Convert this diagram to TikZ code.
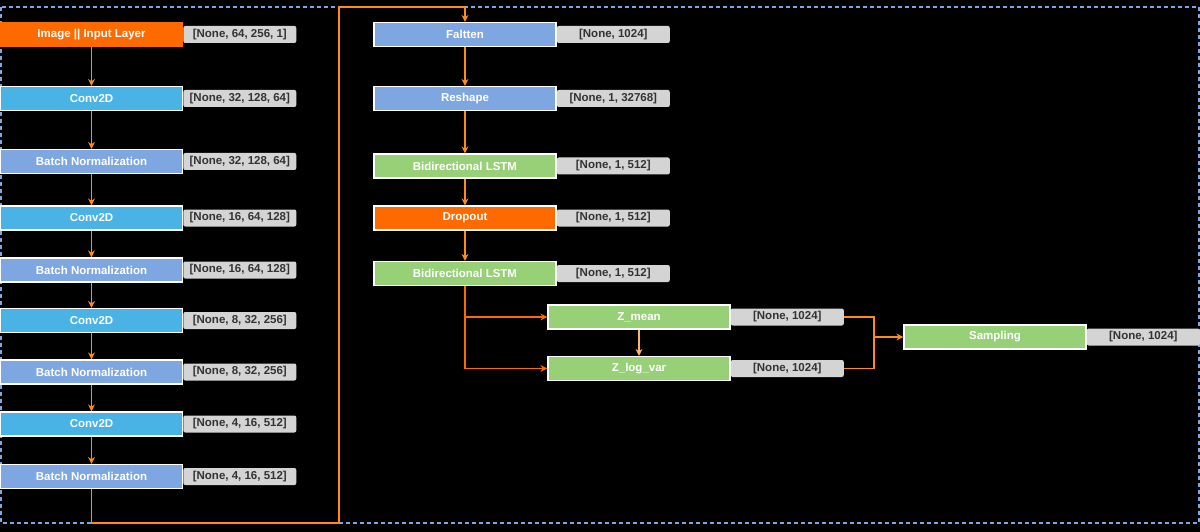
\documentclass[tikz,border=0pt]{standalone}
\usepackage{fontspec}
\setmainfont{Liberation Sans}
\usepackage{tikz}
\usetikzlibrary{arrows.meta,positioning}
\usepackage{xcolor}
\definecolor{inorange}{HTML}{FF6A00}
\definecolor{convblue}{HTML}{4AB3E6}
\definecolor{normblue}{HTML}{7EA6E0}
\definecolor{lstmgreen}{HTML}{97D077}
\definecolor{shpgray}{HTML}{D4D4D4}
\definecolor{lineor}{HTML}{FF8C1A}
\definecolor{deepor}{HTML}{FF6A00}
\definecolor{paleor}{HTML}{FFB366}
\definecolor{frameblue}{HTML}{7EA6E0}

\begin{document}
\begin{tikzpicture}[x=1pt, y=-1pt,
    lyr/.style={draw=white, line width=1.2pt, minimum width=182pt, minimum height=24pt, inner sep=0pt, font=\bfseries\fontsize{11.5}{13}\selectfont, text=white},
    shp/.style={fill=shpgray, rounded corners=2pt, minimum width=113pt, minimum height=17pt, inner sep=0pt, font=\bfseries\fontsize{11.5}{13}\selectfont, text=black!80},
    flow/.style={draw=lineor, line width=1.6pt, -{Stealth[length=7pt, width=7pt]}},
    >=Stealth
]
\path[use as bounding box, fill=black] (0,0) rectangle (1200,532);
\draw[frameblue, dash pattern=on 4pt off 3pt, line width=1.2pt] (1,7) rectangle (1199,523);

% encoder, left column
\node[lyr, fill=inorange, draw=inorange] (L1) at (91.5, 34.5) {Image || Input Layer};
\node[shp, right=0pt of L1] (LS1) {[None, 64, 256, 1]};
\foreach \i/\y/\col/\lab/\dim in {
    2/98.5/convblue/Conv2D/{[None, 32, 128, 64]},
    3/161.5/normblue/Batch Normalization/{[None, 32, 128, 64]},
    4/218/convblue/Conv2D/{[None, 16, 64, 128]},
    5/270/normblue/Batch Normalization/{[None, 16, 64, 128]},
    6/320.5/convblue/Conv2D/{[None, 8, 32, 256]},
    7/372/normblue/Batch Normalization/{[None, 8, 32, 256]},
    8/424/convblue/Conv2D/{[None, 4, 16, 512]},
    9/476.5/normblue/Batch Normalization/{[None, 4, 16, 512]}} {
    \node[lyr, fill=\col] (L\i) at (91.5, \y) {\lab};
    \node[shp, right=0pt of L\i] (LS\i) {\dim};
}

% right column
\foreach \i/\y/\col/\lab/\dim in {
    1/34.5/normblue/Faltten/{[None, 1024]},
    2/98.5/normblue/Reshape/{[None, 1, 32768]},
    3/166/lstmgreen/Bidirectional LSTM/{[None, 1, 512]},
    4/218/inorange/Dropout/{[None, 1, 512]},
    5/273.5/lstmgreen/Bidirectional LSTM/{[None, 1, 512]}} {
    \node[lyr, fill=\col] (R\i) at (465, \y) {\lab};
    \node[shp, right=0pt of R\i] (RS\i) {\dim};
}

% latent part
\node[lyr, fill=lstmgreen] (Zm) at (639, 317) {Z\_mean};
\node[shp, right=0pt of Zm] (ZmS) {[None, 1024]};
\node[lyr, fill=lstmgreen] (Zv) at (639, 368.5) {Z\_log\_var};
\node[shp, right=0pt of Zv] (ZvS) {[None, 1024]};
\node[lyr, fill=lstmgreen] (Samp) at (995, 337) {Sampling};
\node[shp, right=0pt of Samp] (SampS) {[None, 1024]};

% connections
\foreach \a [count=\b from 2] in {1,...,8}
    \draw[flow] (L\a.south) -- (L\b.north);
\coordinate (lo) at (339, 523);
\coordinate (hi) at (339, 7);
\draw[flow, line width=1.4pt] (L9.south) |- (lo) -- (hi) -| (R1.north);
\foreach \a [count=\b from 2] in {1,...,4}
    \draw[flow] (R\a.south) -- (R\b.north);
\draw[flow, draw=deepor] (R5.south) |- (Zm.west);
\draw[flow, draw=deepor] (R5.south) |- (Zv.west);
\draw[flow, draw=paleor] (Zm.south) -- (Zv.north);
\coordinate (mrg) at (874, 337);
\draw[flow] (ZmS.east) -| (mrg) -- (Samp.west);
\draw[flow, -] (ZvS.east) -| (mrg);
\end{tikzpicture}
\end{document}
